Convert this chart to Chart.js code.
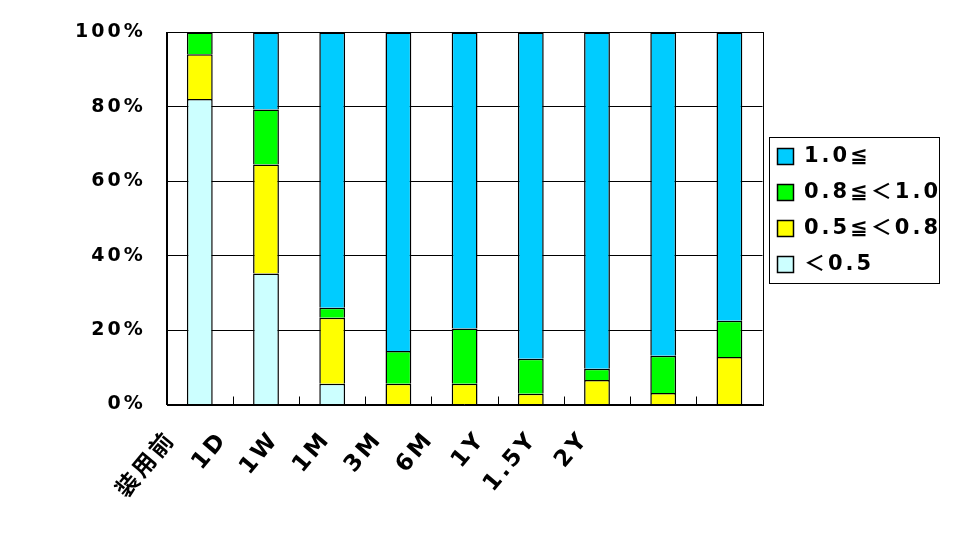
<!DOCTYPE html>
<html><head><meta charset="utf-8">
<script src="https://cdn.jsdelivr.net/npm/chart.js@4"></script>
<style>html,body{margin:0;padding:0;background:#fff}canvas{display:block}</style>
</head><body>
<canvas id="c" width="960" height="553"></canvas>
<script>
const categories = ['装用前','1D','1W','1M','3M','6M','1Y','1.5Y','2Y'];
const seriesNames = ['＜0.5','0.5≦＜0.8','0.8≦＜1.0','1.0≦'];
const below05    = [82.1,35.2,5.6,0,0,0,0,0,0];
const from05to08 = [12.0,29.3,17.7,5.6,5.6,2.9,6.6,3.1,12.8];
const from08to10 = [5.9,14.8,2.7,8.8,14.8,9.4,3.0,10.0,9.7];
const atLeast10  = [0,20.7,74.0,85.6,79.6,87.7,90.4,86.9,77.5];
const yTicks = [0,20,40,60,80,100];
const seriesColors = ['#CCFFFF','#FFFF00','#00FF00','#00CCFF'];
const seriesData = [below05, from05to08, from08to10, atLeast10];

const FONT = "'DejaVu Sans','Noto Sans CJK JP',sans-serif";
const SPACING = '3px';

const spacingPlugin = {
  id:'spacing',
  beforeUpdate(chart){ try{ chart.ctx.letterSpacing=SPACING; }catch(e){} },
  beforeDraw(chart){ try{ chart.ctx.letterSpacing=SPACING; }catch(e){} }
};

const legendPlacePlugin = {
  id:'legendPlace',
  afterLayout(chart){
    const lg=chart.legend, ca=chart.chartArea; if(!lg) return;
    const h=lg.bottom-lg.top;
    const top=(ca.top+ca.bottom)/2 - 8 - h/2;
    const delta=top-lg.top;
    lg.top=top; lg.bottom=top+h;
    (lg.legendHitBoxes||[]).forEach(hb=>{ hb.top+=delta; });
  }
};

const framePlugin = {
  id:'frame',
  afterDatasetsDraw(chart){
    const {ctx, chartArea:a, scales:{x}} = chart;
    ctx.save();
    ctx.strokeStyle='#000'; ctx.lineWidth=1;
    const l=Math.round(a.left)+0.5, r=Math.round(a.right)+0.5, t=Math.round(a.top)+0.5, b=Math.round(a.bottom)+0.5;
    ctx.strokeRect(l,t,r-l,b-t);
    ctx.beginPath();
    for(let i=1;i<categories.length;i++){
      const px=Math.round((x.getPixelForValue(i-1)+x.getPixelForValue(i))/2)+0.5;
      ctx.moveTo(px,b); ctx.lineTo(px,b-9);
    }
    ctx.stroke();
    ctx.restore();
  },
  afterDraw(chart){
    const lg=chart.legend; if(!lg||!lg.legendHitBoxes) return;
    const hb=lg.legendHitBoxes;
    let x0=Infinity,y0=Infinity,x1=-Infinity,y1=-Infinity;
    hb.forEach(h=>{x0=Math.min(x0,h.left);y0=Math.min(y0,h.top);x1=Math.max(x1,h.left+h.width);y1=Math.max(y1,h.top+h.height);});
    const ctx=chart.ctx; ctx.save(); ctx.strokeStyle='#000'; ctx.lineWidth=1;
    const l=Math.round(x0-9)+0.5, t=Math.round(y0-9)+0.5, r=Math.round(x1-2)+0.5, b=Math.round(y1+8)+0.5;
    ctx.strokeRect(l,t,r-l,b-t);
    ctx.restore();
  }
};

new Chart(document.getElementById('c'), {
  type:'bar',
  data:{
    labels: categories,
    datasets: seriesNames.map((n,i)=>({
      label:n, data:seriesData[i], backgroundColor:seriesColors[i],
      borderColor:'#000', borderWidth:1.5,
      barPercentage:0.39, categoryPercentage:1
    }))
  },
  options:{
    responsive:false, devicePixelRatio:1, animation:false,
    layout:{padding:{left:54,top:22,right:9,bottom:35}},
    plugins:{
      legend:{position:'right', reverse:true,
        labels:{boxWidth:16, boxHeight:16, padding:15, color:'#000', font:{family:FONT, size:21, weight:'bold'}}},
      tooltip:{enabled:false}
    },
    scales:{
      x:{stacked:true, display:false},
      x2:{type:'linear', position:'bottom', bounds:'data', offset:false, min:-0.1, max:11.45,
        grid:{display:false}, border:{display:false},
        afterBuildTicks:s=>{ s.ticks = categories.map((_,i)=>({value:i})); },
        ticks:{autoSkip:false, minRotation:50, maxRotation:50, padding:14, color:'#000',
          font:{family:FONT, size:23, weight:'bold'}, callback:v=>categories[v]}},
      y:{stacked:true, min:0, max:100,
        afterBuildTicks:s=>{ s.ticks = yTicks.map(v=>({value:v})); },
        grid:{color:'#000', lineWidth:1, drawTicks:false},
        border:{display:true, color:'#000', width:1},
        ticks:{padding:21, color:'#000', font:{family:FONT, size:19, weight:'bold'}, callback:v=>v+'%'}}
    }
  },
  plugins:[spacingPlugin, legendPlacePlugin, framePlugin]
});
</script>
</body></html>
